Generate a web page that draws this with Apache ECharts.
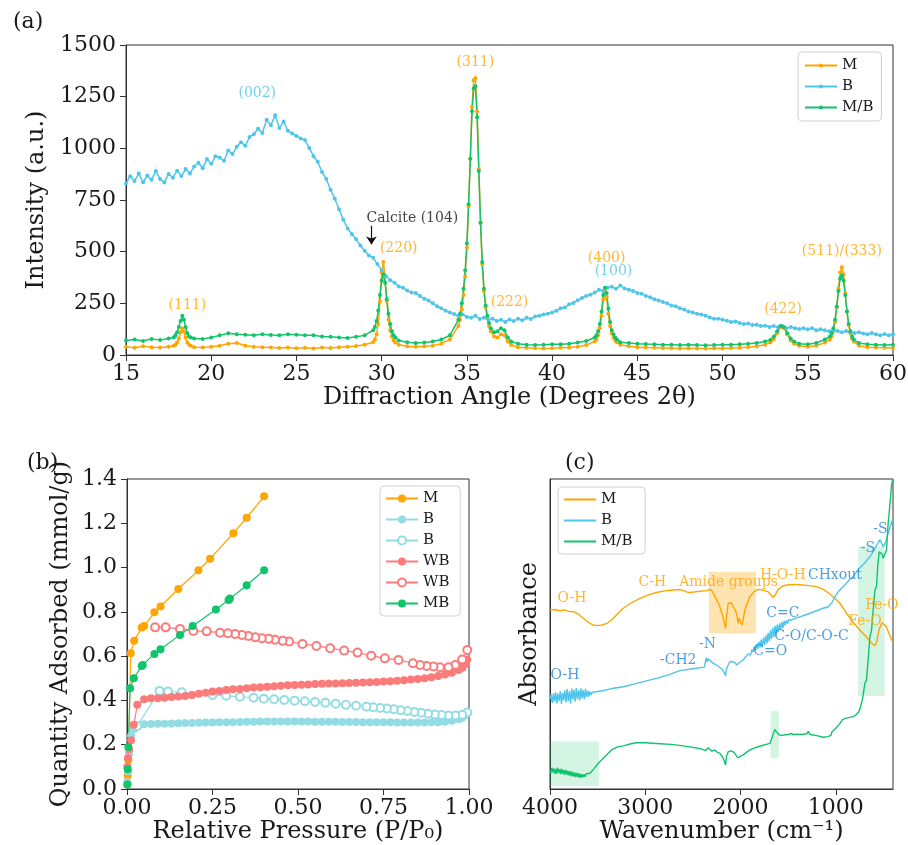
<!DOCTYPE html>
<html>
  <head>
    <meta charset="utf-8" />
    <script src="https://cdn.jsdelivr.net/npm/echarts@6.0.0/dist/echarts.min.js"></script>
    <style>
      body { margin: 0; background: #fff; }
    </style>
  </head>
  <body>
    <div id="main" style="width: 908px; height: 845px"></div>

    <script type="text/javascript">
      // ---------- (a) XRD ----------
      // B is sampled every 0.25 deg starting at 15
      const xrdB = [
        830, 865, 842, 878, 836, 868, 848, 890, 852, 835, 876, 858, 892, 866, 900, 878,
        912, 930, 904, 948, 925, 962, 955, 940, 990, 972, 1008, 1030, 1012, 1055, 1068, 1095,
        1074, 1138, 1112, 1160, 1098, 1130, 1085, 1072, 1060, 1048, 1040, 1002, 962, 935, 885, 852,
        800, 756, 705, 655, 612, 585, 560, 530, 505, 482, 470, 440, 410, 382, 362, 350,
        332, 326, 312, 302, 300, 285, 272, 264, 250, 236, 226, 214, 206, 198, 190, 196,
        184, 180, 190, 174, 180, 170, 176, 165, 170, 160, 172, 164, 175, 168, 180, 174,
        186, 190, 196, 200, 206, 214, 226, 230, 245, 252, 265, 276, 286, 292, 302, 316,
        310, 326, 330, 320, 336, 322, 316, 310, 300, 296, 286, 280, 270, 264, 256, 250,
        240, 236, 226, 220, 210, 206, 200, 196, 190, 182, 176, 176, 170, 166, 160, 162,
        155, 150, 152, 145, 146, 140, 142, 136, 140, 134, 140, 130, 135, 130, 126, 130,
        124, 130, 120, 125, 120, 115, 120, 116, 110, 116, 110, 106, 110, 104, 100, 106,
        100, 96, 102, 95, 100
      ];
      const xrdAngleMMB = [
        15, 15.5, 16, 16.5, 17, 17.5,
        17.8, 17.9, 18.0, 18.1, 18.2, 18.3, 18.4, 18.5, 18.6, 18.7, 18.8,
        19, 19.5, 20, 20.5, 21, 21.5, 22, 22.5, 23, 23.5, 24, 24.5, 25, 25.5, 26, 26.5, 27, 27.5, 28, 28.5, 29, 29.5,
        29.6, 29.7, 29.8, 29.9, 30.0, 30.1, 30.2, 30.3, 30.4, 30.5, 30.6, 30.7, 30.8,
        31, 31.5, 32, 32.5, 33, 33.5, 34, 34.5,
        34.6, 34.7, 34.8, 34.9, 35.0, 35.1, 35.2, 35.3, 35.4, 35.5, 35.6, 35.7, 35.8, 35.9, 36.0, 36.1, 36.2, 36.3, 36.4,
        36.6, 36.8, 37.0, 37.2, 37.4, 37.6,
        38, 38.5, 39, 39.5, 40, 40.5, 41, 41.5, 42, 42.5,
        42.6, 42.7, 42.8, 42.9, 43.0, 43.1, 43.2, 43.3, 43.4, 43.5, 43.6, 43.7, 43.8,
        44, 44.5, 45, 45.5, 46, 46.5, 47, 47.5, 48, 48.5, 49, 49.5, 50, 50.5, 51, 51.5, 52, 52.5,
        52.8, 53.0, 53.2, 53.4, 53.6, 53.8, 54.0, 54.2,
        54.5, 55, 55.5, 56,
        56.3, 56.4, 56.5, 56.6, 56.7, 56.8, 56.9, 57.0, 57.1, 57.2, 57.3, 57.4, 57.5, 57.6, 57.7,
        58, 58.5, 59, 59.5, 60
      ];
      const xrdM = [
        40, 35, 42, 38, 36, 40,
        45, 50, 60, 80, 110, 130, 115, 85, 60, 50, 45,
        38, 36, 40, 45, 55, 58, 45, 40, 38, 36, 34, 36, 33, 35, 32, 36, 34, 38, 40, 44, 50, 62,
        75, 100, 150, 260, 400, 450, 380, 260, 170, 120, 90, 70, 60,
        50, 42, 40, 42, 45, 55, 75, 140,
        170, 220, 290, 380, 520, 720, 950, 1200, 1330, 1340, 1180, 900, 640, 440, 310, 230, 180, 140, 115,
        90, 85, 100, 95, 65, 48,
        38, 35, 33, 32, 33, 35, 36, 40, 48, 65,
        75, 95, 130, 190, 270, 310, 280, 200, 140, 105, 85, 70, 62,
        50, 42, 38, 36, 35, 34, 33, 32, 33, 31, 32, 33, 32, 34, 35, 38, 42, 50,
        60, 75, 105, 135, 130, 100, 70, 55,
        45, 40, 45, 60,
        75, 90, 115, 160, 230, 320, 400, 425, 390, 300, 210, 145, 105, 80, 65,
        45, 38, 36, 35, 34
      ];
      const xrdMB = [
        70, 75, 68, 78, 72, 80,
        85, 95, 110, 135, 165, 190, 170, 135, 105, 90, 85,
        80, 78, 85, 95, 105, 100, 98, 95, 100, 97, 95, 100, 98, 96, 95, 90, 88, 85, 82, 88, 95, 120,
        135, 165, 215, 290, 360, 390, 350, 270, 200, 150, 115, 95, 85,
        70, 62, 58, 60, 65, 75, 95, 170,
        200, 250, 320, 410, 540, 730, 950, 1180, 1290, 1300, 1150, 890, 640, 450, 320, 240, 190, 155, 130,
        110, 115, 130, 120, 85, 65,
        55, 50, 48, 50, 52, 52, 55, 60, 68, 85,
        95, 115, 150, 210, 290, 325, 300, 225, 160, 120, 100, 85, 75,
        62, 58, 55, 53, 52, 50, 50, 48, 50, 48, 47, 48, 50, 50, 52, 55, 58, 65,
        72, 88, 115, 140, 135, 105, 80, 65,
        55, 52, 58, 75,
        90, 105, 130, 170, 235, 310, 370, 385, 360, 290, 210, 150, 115, 90, 75,
        58, 52, 50, 48, 50
      ];
      const xrdTicksX = [15, 20, 25, 30, 35, 40, 45, 50, 55, 60];

      // ---------- (b) isotherms ----------
      const pM = [0.001, 0.002, 0.004, 0.011, 0.021, 0.043, 0.05, 0.08, 0.098, 0.15, 0.209, 0.243, 0.311, 0.35, 0.401];
      const qM = [0.02, 0.06, 0.13, 0.613, 0.67, 0.729, 0.736, 0.798, 0.824, 0.903, 0.988, 1.04, 1.155, 1.225, 1.322];
      const pMB = [0.001, 0.002, 0.004, 0.009, 0.02, 0.043, 0.046, 0.08, 0.098, 0.155, 0.192, 0.26, 0.297, 0.301, 0.35, 0.401];
      const qMB = [0.02, 0.089, 0.19, 0.455, 0.5, 0.556, 0.56, 0.61, 0.631, 0.696, 0.736, 0.811, 0.854, 0.86, 0.92, 0.988];
      const pAds = [
        0.001, 0.003, 0.006, 0.012, 0.02, 0.03, 0.05, 0.07, 0.09, 0.11, 0.13, 0.15, 0.17, 0.19,
        0.21, 0.23, 0.25, 0.27, 0.29, 0.31, 0.33, 0.35, 0.37, 0.39, 0.41, 0.43, 0.45, 0.47, 0.49,
        0.51, 0.53, 0.55, 0.57, 0.59, 0.61, 0.63, 0.65, 0.67, 0.69, 0.71, 0.73, 0.75, 0.77, 0.79,
        0.81, 0.83, 0.85, 0.87, 0.89, 0.91, 0.93, 0.95, 0.97, 0.98, 0.99, 0.995
      ];
      const qBAds = [
        0.03, 0.08, 0.16, 0.24, 0.27, 0.283, 0.292, 0.294, 0.295, 0.295, 0.296, 0.297, 0.298, 0.298,
        0.299, 0.3, 0.3, 0.301, 0.302, 0.302, 0.303, 0.304, 0.304, 0.305, 0.305, 0.305, 0.305, 0.305, 0.305,
        0.305, 0.305, 0.304, 0.304, 0.304, 0.304, 0.303, 0.303, 0.303, 0.302, 0.302, 0.302, 0.301, 0.301, 0.3,
        0.3, 0.3, 0.3, 0.3, 0.301, 0.302, 0.304, 0.308, 0.315, 0.322, 0.333, 0.345
      ];
      const qWBAds = [
        0.1, 0.14, 0.18, 0.22, 0.29, 0.38, 0.405, 0.41, 0.41, 0.412, 0.415, 0.418, 0.42, 0.425,
        0.43, 0.435, 0.44, 0.443, 0.447, 0.45, 0.452, 0.455, 0.458, 0.46, 0.462, 0.464, 0.466, 0.468, 0.47,
        0.471, 0.472, 0.474, 0.475, 0.476, 0.477, 0.478, 0.479, 0.48, 0.481, 0.482, 0.483, 0.485, 0.487, 0.489,
        0.491, 0.494, 0.497, 0.5, 0.505, 0.51, 0.517, 0.525, 0.537, 0.548, 0.565, 0.585
      ];
      const pBDes = [
        0.995, 0.98, 0.96, 0.94, 0.92, 0.9, 0.88, 0.86, 0.84, 0.82, 0.8, 0.78, 0.76, 0.74, 0.72, 0.7,
        0.67, 0.64, 0.61, 0.58, 0.55, 0.52, 0.49, 0.46, 0.43, 0.4, 0.37, 0.33, 0.29, 0.25, 0.16, 0.12, 0.095, 0.03
      ];
      const qBDes = [
        0.345, 0.335, 0.332, 0.332, 0.334, 0.336, 0.34, 0.344, 0.348, 0.352, 0.356, 0.36, 0.363, 0.366, 0.369, 0.372,
        0.376, 0.38, 0.385, 0.39, 0.393, 0.396, 0.399, 0.402, 0.405, 0.408, 0.412, 0.417, 0.421, 0.425, 0.437, 0.44, 0.443, 0.285
      ];
      const pWBDes = [
        0.995, 0.98, 0.96, 0.94, 0.915, 0.896, 0.876, 0.857, 0.836, 0.794, 0.754, 0.714, 0.674, 0.635,
        0.594, 0.554, 0.513, 0.474, 0.455, 0.433, 0.414, 0.394, 0.375, 0.355, 0.336, 0.316, 0.295, 0.272,
        0.233, 0.194, 0.155, 0.113, 0.082
      ];
      const qWBDes = [
        0.628, 0.585, 0.56, 0.55, 0.55, 0.553, 0.556, 0.56, 0.568, 0.583, 0.59, 0.602, 0.616, 0.625,
        0.636, 0.646, 0.655, 0.666, 0.669, 0.674, 0.678, 0.681, 0.685, 0.691, 0.696, 0.7, 0.703, 0.706,
        0.712, 0.714, 0.723, 0.73, 0.73
      ];

      // ---------- (c) FTIR [wavenumber, absorbance (arb.)] ----------
      const ftirM = [
        [4000, 57.7], [3950, 57.9], [3900, 57.5], [3850, 57.8], [3800, 57.3], [3755, 57.2], [3700, 56.4],
        [3650, 55.1], [3600, 53.8], [3550, 52.9], [3500, 52.7], [3450, 52.9], [3405, 53.4], [3350, 54.6],
        [3300, 56.2], [3231, 58.3], [3150, 60.0], [3056, 61.5], [2960, 62.7], [2881, 63.4], [2800, 63.9],
        [2706, 64.2], [2636, 64.3], [2600, 64.0], [2560, 63.5], [2531, 63.4], [2480, 63.6], [2420, 63.8],
        [2356, 64.0], [2322, 64.4], [2300, 64.0], [2287, 63.1], [2250, 61.0], [2217, 58.8], [2190, 56.0],
        [2170, 53.5], [2157, 51.8], [2145, 56.0], [2130, 59.9], [2110, 60.3], [2095, 60.0], [2070, 58.5],
        [2042, 56.7], [2025, 53.4], [2015, 55.1], [2000, 54.5], [1983, 52.9], [1970, 55.0], [1955, 57.7],
        [1930, 60.0], [1902, 62.0], [1860, 63.6], [1820, 64.3], [1797, 64.4], [1750, 64.0], [1710, 63.6],
        [1680, 62.6], [1657, 61.8], [1635, 62.6], [1605, 64.4], [1560, 65.4], [1517, 65.8], [1450, 66.0],
        [1380, 65.9], [1307, 65.7], [1202, 65.3], [1133, 64.4], [1080, 63.3], [1028, 62.0], [958, 60.0],
        [888, 56.7], [818, 53.8], [748, 51.3], [678, 49.0], [625, 47.0], [590, 46.2], [580, 45.9],
        [566, 48.0], [556, 50.2], [535, 52.4], [515, 53.6], [490, 53.0], [468, 52.2], [440, 50.0], [405, 47.5]
      ];
      const ftirB = [
        [4000, 29.0], [3988, 30.6], [3976, 27.8], [3964, 30.9], [3952, 28.2], [3940, 31.2], [3928, 27.6],
        [3916, 30.8], [3904, 28.4], [3892, 31.5], [3880, 27.4], [3868, 31.0], [3856, 28.6], [3844, 31.8],
        [3832, 27.9], [3820, 32.2], [3808, 28.3], [3796, 31.6], [3784, 27.5], [3772, 32.4], [3760, 28.8],
        [3748, 32.0], [3736, 28.2], [3724, 32.6], [3712, 29.0], [3700, 31.8], [3688, 28.6], [3676, 32.5],
        [3664, 29.2], [3652, 31.9], [3640, 28.9], [3628, 32.3], [3616, 29.6], [3604, 31.7], [3592, 29.8],
        [3580, 31.5], [3568, 30.3], [3556, 31.2], [3540, 30.9], [3450, 31.7], [3350, 32.4], [3231, 33.0],
        [3100, 34.0], [3000, 34.8], [2881, 35.7], [2750, 36.9], [2636, 38.2], [2500, 38.8], [2380, 39.3],
        [2367, 39.6], [2360, 42.4], [2350, 41.0], [2340, 42.0], [2322, 41.6], [2290, 40.6], [2252, 40.0],
        [2200, 38.8], [2170, 37.5], [2157, 36.5], [2150, 38.4], [2130, 40.0], [2110, 41.2], [2095, 41.6],
        [2060, 40.8], [2040, 40.0], [2025, 39.8], [2010, 40.8], [1990, 41.4], [1973, 41.6], [1950, 42.5],
        [1920, 43.6], [1895, 43.2], [1880, 45.0], [1867, 44.2], [1855, 46.0], [1843, 44.8], [1831, 46.8],
        [1819, 45.2], [1807, 47.5], [1795, 45.6], [1783, 48.2], [1771, 46.0], [1759, 48.8], [1747, 46.5],
        [1735, 49.6], [1723, 47.0], [1711, 50.4], [1699, 47.6], [1687, 51.2], [1675, 48.4], [1663, 52.0],
        [1651, 49.0], [1639, 52.6], [1627, 49.8], [1615, 53.0], [1603, 50.6], [1591, 53.4], [1579, 51.4],
        [1567, 53.8], [1555, 52.0], [1543, 54.2], [1531, 52.8], [1519, 54.4], [1507, 53.4], [1495, 54.6],
        [1470, 54.4], [1447, 54.8], [1400, 55.3], [1307, 56.3], [1200, 57.5], [1133, 58.3], [1080, 58.8],
        [1063, 59.0], [1040, 60.2], [1010, 62.0], [980, 63.4], [958, 64.2], [900, 66.0], [860, 67.4],
        [818, 68.5], [760, 71.0], [700, 72.8], [643, 74.9], [600, 77.0], [560, 79.2], [538, 80.5],
        [520, 80.0], [503, 78.2], [480, 79.5], [465, 81.0], [451, 82.5], [430, 84.6], [405, 86.8]
      ];
      const ftirMB = [
        [4000, 6.1], [3990, 5.2], [3980, 6.8], [3970, 5.4], [3960, 6.6], [3950, 5.0], [3940, 6.5], [3930, 4.9],
        [3920, 6.9], [3910, 5.3], [3900, 6.3], [3890, 4.8], [3880, 6.6], [3870, 5.0], [3860, 6.1], [3850, 4.6],
        [3840, 6.2], [3830, 4.7], [3820, 5.9], [3810, 4.4], [3800, 5.8], [3790, 4.3], [3780, 5.7], [3770, 4.1],
        [3760, 5.5], [3750, 4.0], [3740, 5.3], [3730, 3.8], [3720, 5.2], [3710, 3.9], [3700, 5.0], [3690, 3.6],
        [3680, 4.9], [3670, 3.7], [3660, 4.8], [3650, 3.9], [3640, 4.7], [3630, 4.0], [3620, 4.9], [3600, 4.6],
        [3580, 5.1], [3540, 6.5], [3493, 8.3], [3420, 10.6], [3353, 12.6], [3290, 13.6], [3231, 13.9],
        [3150, 14.6], [3091, 14.9], [3000, 14.9], [2881, 14.7], [2700, 14.3], [2531, 13.6], [2420, 13.0],
        [2367, 12.4], [2340, 13.3], [2322, 13.1], [2300, 12.2], [2270, 12.6], [2240, 11.8], [2217, 11.5],
        [2190, 10.4], [2170, 9.0], [2157, 7.7], [2148, 10.5], [2130, 12.0], [2100, 12.3], [2077, 12.0],
        [2050, 11.0], [2030, 10.0], [2016, 9.9], [2000, 10.6], [1973, 11.0], [1940, 11.8], [1900, 12.6],
        [1867, 13.1], [1800, 13.8], [1740, 14.3], [1692, 14.7], [1670, 16.5], [1650, 18.5], [1640, 19.2],
        [1625, 18.5], [1610, 18.0], [1595, 17.4], [1580, 18.0], [1565, 17.3], [1550, 17.9], [1530, 17.5],
        [1500, 17.6], [1470, 17.9], [1440, 17.5], [1412, 17.7], [1350, 17.6], [1300, 17.9], [1290, 18.6],
        [1270, 17.6], [1200, 17.2], [1133, 16.7], [1080, 16.9], [1050, 17.4], [1040, 18.5], [1028, 18.5],
        [1000, 19.6], [960, 21.0], [930, 22.4], [900, 22.8], [888, 22.8], [840, 23.2], [800, 23.6], [783, 23.9],
        [760, 24.8], [748, 25.7], [720, 29.0], [695, 34.1], [678, 35.2], [660, 42.0], [643, 49.1], [625, 51.3],
        [610, 57.0], [590, 64.2], [573, 65.3], [560, 72.0], [545, 76.5], [530, 76.8], [515, 75.8], [503, 74.4],
        [486, 73.9], [468, 77.1], [451, 85.7], [430, 92.5], [416, 98.0], [402, 100]
      ];
      const ftirTicks = [4000, 3000, 2000, 1000];

      // colours
      const cOrange = "#ffa500";
      const cBlue = "#4ec5e9";
      const cGreen = "#10c46c";
      const cLBlue = "#93dce4";
      const cRed = "#fb7b7b";
      const cNoteBlue = "#1f86d8";
      const serif = "'DejaVu Serif', serif";

      // annotations: [text, x, y, colour]
      const xrdNotes = [
        ["(002)", 22.7, 1268, cBlue],
        ["(311)", 35.5, 1417, cOrange],
        ["Calcite (104)", 31.8, 663, "#111"],
        ["(220)", 31.0, 518, cOrange],
        ["(111)", 18.6, 242, cOrange],
        ["(222)", 37.5, 256, cOrange],
        ["(400)", 43.2, 469, cOrange],
        ["(100)", 43.6, 406, cBlue],
        ["(422)", 53.55, 222, cOrange],
        ["(511)/(333)", 57.0, 503, cOrange]
      ];
      const ftirNotes = [
        ["O-H", 3769, 61.6, cOrange],
        ["C-H", 2925, 66.6, cOrange],
        ["Amide groups", 2126, 66.6, cOrange],
        ["H-O-H", 1556, 69.0, cOrange],
        ["CHxout", 1010, 69.0, cNoteBlue],
        ["-S", 533, 83.8, cNoteBlue],
        ["-S", 663, 77.6, cNoteBlue],
        ["Fe-O", 517, 59.1, cOrange],
        ["Fe-O", 695, 54.2, cOrange],
        ["C=C", 1556, 56.7, cNoteBlue],
        ["C-O/C-O-C", 1255, 49.1, cNoteBlue],
        ["C=O", 1688, 44.3, cNoteBlue],
        ["-N", 2348, 46.7, cNoteBlue],
        ["-CH2", 2654, 41.6, cNoteBlue],
        ["O-H", 3843, 36.5, cNoteBlue]
      ];

      const zip = (xs, ys) => xs.map((x, i) => [x, ys[i]]);

      function noteSeries(notes, idx, size) {
        return {
          type: "scatter",
          xAxisIndex: idx,
          yAxisIndex: idx,
          symbolSize: 1,
          itemStyle: { color: "rgba(0,0,0,0)" },
          silent: true,
          z: 6,
          label: { show: true, position: "inside", fontFamily: serif, fontSize: size },
          data: notes.map((n) => ({
            value: [n[1], n[2]],
            label: { formatter: n[0], color: n[3] }
          }))
        };
      }

      function xrdSeries(name, data, color) {
        return {
          name: name,
          type: "line",
          xAxisIndex: 0,
          yAxisIndex: 0,
          data: data,
          symbol: "circle",
          symbolSize: 4,
          showAllSymbol: true,
          color: color,
          lineStyle: { width: 1.5, color: color },
          itemStyle: { color: color }
        };
      }

      function isoSeries(name, data, color, hollow) {
        return {
          name: name,
          type: "line",
          xAxisIndex: 1,
          yAxisIndex: 1,
          data: data,
          symbol: hollow ? "emptyCircle" : "circle",
          symbolSize: 8,
          showAllSymbol: true,
          color: color,
          lineStyle: { width: 1.2, color: color },
          itemStyle: { color: color, borderColor: color, borderWidth: hollow ? 1.2 : 0 }
        };
      }

      function ftirSeries(name, data, color) {
        return {
          name: name,
          type: "line",
          xAxisIndex: 2,
          yAxisIndex: 2,
          data: data,
          symbol: "none",
          color: color,
          lineStyle: { width: 1.4, color: color }
        };
      }

      const plain = (v) => String(v);
      const axisText = { fontFamily: serif, fontSize: 22, color: "#1a1a1a" };
      const nameText = { fontFamily: serif, fontSize: 24, color: "#1a1a1a" };
      const line = { show: true, lineStyle: { color: "#333", width: 1 } };
      const tick = { show: true, length: 6, lineStyle: { color: "#333", width: 1 } };
      const legendBase = {
        orient: "vertical",
        backgroundColor: "#fff",
        borderColor: "#d0d0d0",
        borderWidth: 1,
        borderRadius: 4,
        itemWidth: 32,
        itemGap: 6,
        textStyle: { fontFamily: serif, fontSize: 15, color: "#1a1a1a" }
      };
      const gridBase = { show: true, borderColor: "#333", borderWidth: 1, outerBoundsMode: "none", containLabel: false };

      const seriesA = [
        xrdSeries("M", zip(xrdAngleMMB, xrdM), cOrange),
        xrdSeries("B", xrdB.map((v, i) => [15 + i * 0.25, v]), cBlue),
        xrdSeries("M/B", zip(xrdAngleMMB, xrdMB), cGreen)
      ];
      seriesA[1].markLine = {
        silent: true,
        symbol: ["none", "arrow"],
        symbolSize: 8,
        label: { show: false },
        lineStyle: { color: "#111", width: 1.2, type: "solid" },
        data: [[{ coord: [29.4, 625] }, { coord: [29.4, 535] }]]
      };

      const seriesB = [
        isoSeries("M ", zip(pM, qM), cOrange, false),
        isoSeries("B ", zip(pAds, qBAds), cLBlue, false),
        isoSeries("B  ", zip(pBDes, qBDes), cLBlue, true),
        isoSeries("WB", zip(pAds, qWBAds), cRed, false),
        isoSeries("WB ", zip(pWBDes, qWBDes), cRed, true),
        isoSeries("MB", zip(pMB, qMB), cGreen, false)
      ];

      const seriesC = [
        ftirSeries("M  ", ftirM, cOrange),
        ftirSeries("B   ", ftirB, cBlue),
        ftirSeries("M/B ", ftirMB, cGreen)
      ];
      seriesC[0].markArea = {
        silent: true,
        itemStyle: { color: "rgba(255,165,0,0.3)" },
        data: [[{ coord: [2332, 70.1] }, { coord: [1839, 50.2] }]]
      };
      seriesC[2].markArea = {
        silent: true,
        itemStyle: { color: "rgba(16,196,108,0.18)" },
        data: [
          [{ coord: [4000, 15.3] }, { coord: [3486, 1.0] }],
          [{ coord: [1685, 25.2] }, { coord: [1599, 9.9] }],
          [{ coord: [766, 78.2] }, { coord: [488, 30.0] }]
        ]
      };

      const option = {
        animation: false,
        backgroundColor: "#fff",
        title: [
          { text: "(a)", left: 8, top: 6, textStyle: { fontFamily: serif, fontSize: 22, fontWeight: "normal", color: "#1a1a1a" } },
          { text: "(b)", left: 22, top: 447, textStyle: { fontFamily: serif, fontSize: 22, fontWeight: "normal", color: "#1a1a1a" } },
          { text: "(c)", left: 560, top: 447, textStyle: { fontFamily: serif, fontSize: 22, fontWeight: "normal", color: "#1a1a1a" } }
        ],
        legend: [
          Object.assign({}, legendBase, {
            left: 798, top: 52, padding: [6, 8, 6, 6], itemHeight: 5,
            data: ["M", "B", "M/B"]
          }),
          Object.assign({}, legendBase, {
            left: 380, top: 486, padding: [5, 6, 5, 5], itemHeight: 10,
            data: ["M ", "B ", "B  ", "WB", "WB ", "MB"]
          }),
          Object.assign({}, legendBase, {
            left: 558, top: 487, padding: [5, 8, 5, 6], itemHeight: 2,
            data: [
              { name: "M  ", icon: "rect" },
              { name: "B   ", icon: "rect" },
              { name: "M/B ", icon: "rect" }
            ]
          })
        ],
        grid: [
          Object.assign({ left: 126, top: 45, width: 767, height: 310 }, gridBase),
          Object.assign({ left: 127, top: 479, width: 342, height: 310 }, gridBase),
          Object.assign({ left: 550, top: 479, width: 343, height: 310 }, gridBase)
        ],
        xAxis: [
          {
            type: "value", gridIndex: 0, min: 15, max: 60, interval: 5,
            name: "Diffraction Angle (Degrees 2θ)", nameLocation: "middle", nameGap: 30, nameTextStyle: nameText,
            axisLine: line, axisTick: tick, splitLine: { show: false },
            axisLabel: Object.assign({ margin: 8, customValues: xrdTicksX, formatter: plain }, axisText)
          },
          {
            type: "value", gridIndex: 1, min: 0, max: 1, interval: 0.25,
            name: "Relative Pressure (P/P₀)", nameLocation: "middle", nameGap: 30, nameTextStyle: nameText,
            axisLine: line, axisTick: tick, splitLine: { show: false },
            axisLabel: Object.assign({ margin: 8, formatter: (v) => v.toFixed(2) }, axisText)
          },
          {
            type: "value", gridIndex: 2, min: 400, max: 4000, inverse: true,
            name: "Wavenumber (cm⁻¹)", nameLocation: "middle", nameGap: 30, nameTextStyle: nameText,
            axisLine: line, splitLine: { show: false },
            axisTick: Object.assign({ customValues: ftirTicks }, tick),
            axisLabel: Object.assign({ margin: 8, customValues: ftirTicks, formatter: plain }, axisText)
          }
        ],
        yAxis: [
          {
            type: "value", gridIndex: 0, min: 0, max: 1500, interval: 250,
            name: "Intensity (a.u.)", nameLocation: "middle", nameGap: 66, nameTextStyle: nameText,
            axisLine: line, axisTick: tick, splitLine: { show: false },
            axisLabel: Object.assign({ margin: 10, formatter: plain }, axisText)
          },
          {
            type: "value", gridIndex: 1, min: 0, max: 1.4, interval: 0.2,
            name: "Quantity Adsorbed (mmol/g)", nameLocation: "middle", nameGap: 54, nameTextStyle: nameText,
            axisLine: line, axisTick: tick, splitLine: { show: false },
            axisLabel: Object.assign({ margin: 10, formatter: (v) => v.toFixed(1) }, axisText)
          },
          {
            type: "value", gridIndex: 2, min: 0, max: 100,
            name: "Absorbance", nameLocation: "middle", nameGap: 8, nameTextStyle: nameText,
            axisLine: line, axisTick: { show: false }, axisLabel: { show: false }, splitLine: { show: false }
          }
        ],
        series: seriesA
          .concat(seriesB)
          .concat(seriesC)
          .concat([noteSeries(xrdNotes, 0, 14), noteSeries(ftirNotes, 2, 14)])
      };

      const chartContainer = document.getElementById("main");
      const myChart = echarts.init(chartContainer, null, { renderer: "canvas" });
      myChart.setOption(option);
    </script>
  </body>
</html>
